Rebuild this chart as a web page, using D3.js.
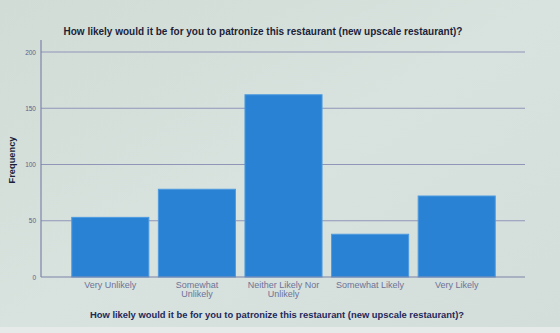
<!DOCTYPE html>
<html><head><meta charset="utf-8">
<script src="https://cdn.jsdelivr.net/npm/d3@7"></script>
<style>
html,body{margin:0;padding:0;}
body{width:560px;height:333px;overflow:hidden;background:#d5dfdb;}
</style></head>
<body><svg id="c" width="560" height="333"></svg>
<script>
const categories = ["Very Unlikely", "Somewhat Unlikely", "Neither Likely Nor Unlikely", "Somewhat Likely", "Very Likely"];
const labelLines = [["Very Unlikely"], ["Somewhat", "Unlikely"], ["Neither Likely Nor", "Unlikely"], ["Somewhat Likely"], ["Very Likely"]];
const frequencies = [53, 78, 162, 38, 72];
const yTicks = [0, 50, 100, 150, 200];
const title = "How likely would it be for you to patronize this restaurant (new upscale restaurant)?";
const yTitle = "Frequency";

const svg = d3.select("#c");
const defs = svg.append("defs");
const g = defs.append("linearGradient").attr("id","bg").attr("x1",0).attr("y1",0).attr("x2",1).attr("y2",1);
g.append("stop").attr("offset","0%").attr("stop-color","#d2dcd6");
g.append("stop").attr("offset","50%").attr("stop-color","#d8e2de");
g.append("stop").attr("offset","100%").attr("stop-color","#d3ddda");
svg.append("rect").attr("width",560).attr("height",333).attr("fill","url(#bg)");
svg.append("rect").attr("x",0).attr("y",327).attr("width",560).attr("height",6).attr("fill","#e6ebea");

const x = d3.scaleBand().domain(categories).range([67, 500]).paddingInner(0.11).paddingOuter(0.055);
const y = d3.scaleLinear().domain([0, 200]).range([277, 52]);

// gridlines
svg.append("g").selectAll("line").data(yTicks.filter(d=>d>0)).join("line")
  .attr("x1",41).attr("x2",525).attr("y1",d=>y(d)).attr("y2",d=>y(d))
  .attr("stroke","#8f96b8").attr("stroke-width",1.2);

// bars
svg.append("g").selectAll("rect").data(frequencies).join("rect")
  .attr("x",(d,i)=>x(categories[i])).attr("width",x.bandwidth())
  .attr("y",d=>y(d)).attr("height",d=>y(0)-y(d))
  .attr("fill","#2a82d4").attr("stroke","#4d9be0").attr("stroke-width",1);

// axes
const yAxis = d3.axisLeft(y).tickValues(yTicks).tickSize(0).tickPadding(5);
const ya = svg.append("g").attr("transform","translate(41,0)").call(yAxis);
ya.select(".domain").remove();
ya.selectAll("text").attr("font-family","Liberation Sans, Arial").attr("font-size",6.5).attr("fill","#5a6088");
svg.append("line").attr("x1",41).attr("x2",41).attr("y1",40).attr("y2",277).attr("stroke","#7d84aa").attr("stroke-width",1.2);
svg.append("line").attr("x1",41).attr("x2",525).attr("y1",277).attr("y2",277).attr("stroke","#7d84aa").attr("stroke-width",1.2);

const xa = svg.append("g").attr("transform","translate(0,277)").call(d3.axisBottom(x).tickSize(0).tickFormat(""));
xa.select(".domain").remove();
xa.selectAll(".tick").each(function(d,i){
  const t = d3.select(this).append("text").attr("fill","#6d7398")
    .attr("font-family","Liberation Sans, Arial").attr("font-size",9).attr("text-anchor","middle");
  labelLines[i].forEach((ln,k)=>t.append("tspan").attr("x",0).attr("y",11+k*8.5).text(ln));
});

svg.append("text").attr("x",263).attr("y",35).attr("text-anchor","middle")
  .attr("font-family","Liberation Sans, Arial").attr("font-weight","bold").attr("font-size",10)
  .attr("fill","#1c1f3a").text(title);
svg.append("text").attr("x",277).attr("y",318).attr("text-anchor","middle")
  .attr("font-family","Liberation Sans, Arial").attr("font-weight","bold").attr("font-size",9.4)
  .attr("fill","#23285a").text(title);
svg.append("text").attr("transform","translate(15,160) rotate(-90)").attr("text-anchor","middle")
  .attr("font-family","Liberation Sans, Arial").attr("font-weight","bold").attr("font-size",9.3)
  .attr("fill","#1c1f3a").text(yTitle);
</script></body></html>
